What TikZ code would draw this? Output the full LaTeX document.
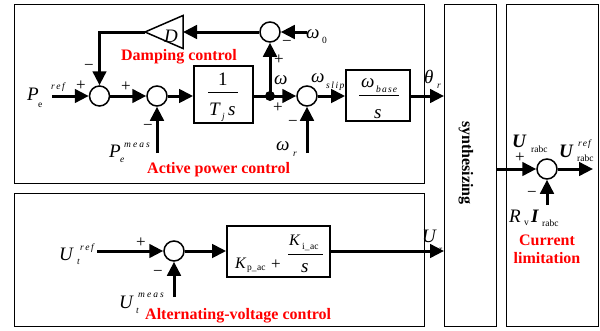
\documentclass[tikz,border=0pt]{standalone}
\usepackage{fontspec}
\setmainfont{Liberation Serif}
\usetikzlibrary{arrows.meta}
\newcommand{\bigf}{\fontsize{19}{19}\selectfont}
\newcommand{\kf}{\fontsize{16}{16}\selectfont}
\newcommand{\smf}{\fontsize{9.5}{9.5}\selectfont}
\newcommand{\signf}{\fontsize{17}{17}\selectfont}
\begin{document}
\begin{tikzpicture}[x=1pt,y=-1pt,
  sumc/.style={circle,draw,line width=1.5pt,minimum size=20pt,inner sep=0pt,fill=white},
  blk/.style={draw,line width=1.8pt,inner sep=0pt},
  frm/.style={draw,line width=1.4pt,inner sep=0pt,anchor=north west},
  conn/.style={line width=3pt,-{Triangle[length=14pt,width=13.5pt]}},
  bar/.style={line width=0.8pt},
  mv/.style={inner sep=0pt,anchor=base west,font=\bigf\itshape},
  mu/.style={inner sep=0pt,anchor=base west,font=\bigf},
  mb/.style={inner sep=0pt,anchor=base west,font=\bigf\bfseries\itshape},
  kv/.style={inner sep=0pt,anchor=base west,font=\kf\itshape},
  sv/.style={inner sep=0pt,anchor=base west,font=\smf\itshape},
  su/.style={inner sep=0pt,anchor=base west,font=\smf},
  sg/.style={inner sep=0pt,font=\signf},
  rl/.style={inner sep=0pt,text=red,font=\fontsize{16}{16}\selectfont\bfseries},
]
\useasboundingbox (0,0) rectangle (600,330);
% frames
\node[frm,minimum width=410.5pt,minimum height=179pt] (topbox) at (13.5,4) {};
\node[frm,minimum width=410.5pt,minimum height=133pt] (botbox) at (13.5,193) {};
\node[frm,minimum width=52pt,minimum height=322pt] (synth) at (444,4) {};
\node[frm,minimum width=92pt,minimum height=322pt] (limbox) at (506,4) {};
\node[rotate=-90,inner sep=0pt,font=\fontsize{16}{16}\selectfont\bfseries] (synthtxt) at (466,163) {synthesizing};

% ---------- active power control ----------
\node[sumc] (c1) at (99.5,96) {};
\node[sumc] (c2) at (157,96) {};
\node[sumc] (ctop) at (270,32) {};
\node[sumc] (c3) at (307,96) {};
\node[blk,minimum width=59pt,minimum height=57pt] (b1) at (223.5,94.5) {};
\node[blk,minimum width=64pt,minimum height=51pt] (b2) at (378,95.5) {};
\draw[line width=1.5pt,fill=white] (145,32) -- (183,15.5) -- (183,48.5) -- cycle;
\coordinate (triTip) at (145,32);
\coordinate (triBase) at (183,32);
\node[mv] (dlab) at (164,42) {D};

\coordinate (prefIn) at (52,96);
\coordinate (pmeasIn) at (157,153);
\coordinate (w0In) at (307,32);
\coordinate (wrIn) at (307,153);

\draw[conn] (prefIn) -- (c1.west);
\draw[conn] (triTip) -| (c1.north);
\draw[conn] (c1.east) -- (c2.west);
\draw[conn] (pmeasIn) -- (c2.south);
\draw[conn] (c2.east) -- (c2.east -| b1.west);
\draw[conn] (b1.east |- c3) -- (c3.west);
\node[circle,fill,inner sep=0pt,minimum size=10pt] (jn) at (270,96) {};
\draw[conn] (jn.center) -- (ctop.south);
\draw[conn] (w0In) -- (ctop.east);
\draw[conn] (ctop.west) -- (triBase);
\draw[conn] (wrIn) -- (c3.south);
\draw[conn] (c3.east) -- (c3.east -| b2.west);
\draw[conn] (b2.east |- c3) -- (c3 -| synth.west);

% block 1 content
\node[mu] (b1n) at (218,85) {1};
\draw[bar] (208,92) -- (238,92);
\node[mv] (b1T) at (209,115) {T};
\node[sv] (b1j) at (222,119) {j};
\node[mv] (b1s) at (228,115) {s};
% block 2 content
\node[mv] (b2w) at (361,87) {ω};
\node[sv] (b2b) at (376,92) {b\kern1.2pt a\kern1.2pt s\kern1.2pt e};
\draw[bar] (359,95) -- (399,95);
\node[mv] (b2s) at (374,118) {s};

% labels
\node[mv] (pr) at (27,100) {P};
\node[sv] (prs) at (51,89) {r\kern1.5pt e\kern1.5pt f};
\node[su] (pre) at (38,107) {e};
\node[mv] (pm) at (109,157) {P};
\node[sv] (pms) at (124,147) {m\kern2pt e\kern2pt a\kern2pt s};
\node[sv] (pme) at (120,162) {e};
\node[mv] (wj) at (274,84) {ω};
\node[mv] (ws) at (311,82) {ω};
\node[sv] (wss) at (326,88) {s\kern1.5pt l\kern1.5pt i\kern1.5pt p};
\node[mv] (w0) at (306,38) {ω};
\node[su] (w0s) at (322,43) {0};
\node[mv] (wr) at (276,150) {ω};
\node[sv] (wrs) at (293,156) {r};
\node[mv] (th) at (424,83) {θ};
\node[sv] (ths) at (437,88) {r};

% signs
\node[sg] (s1a) at (81,86) {+};
\node[sg] (s1b) at (89,67) {−};
\node[sg] (s2a) at (126,87) {+};
\node[sg] (s2b) at (148,127) {−};
\node[sg] (s3a) at (279,60) {+};
\node[sg] (s3b) at (287,43) {−};
\node[sg] (s4a) at (278,108) {+};
\node[sg] (s4b) at (293,123) {−};

\node[rl,anchor=base] (dmp) at (179,60) {Damping control};
\node[rl,anchor=base west] (apc) at (147,173) {Active power control};

% ---------- alternating voltage control ----------
\node[sumc] (c4) at (174,251) {};
\node[blk,minimum width=103pt,minimum height=51pt] (b3) at (278.5,251.5) {};
\coordinate (urefIn) at (97,251);
\coordinate (umeasIn) at (174,297);
\draw[conn] (urefIn) -- (c4.west);
\draw[conn] (umeasIn) -- (c4.south);
\draw[conn] (c4.east) -- (c4.east -| b3.west);
\draw[conn] (b3.east |- c4) -- (c4 -| synth.west);

\node[kv] (k1) at (235,268) {K};
\node[su] (k1s) at (247,270) {p\_\kern0.5pt ac};
\node[sg] (kp) at (276,265) {+};
\draw[bar] (288,254) -- (323,254);
\node[kv] (k2) at (289,245) {K};
\node[su] (k2s) at (302,249) {i\_\kern0.5pt ac};
\node[mv] (k2d) at (301,272) {s};

\node[mv] (ur) at (59,260) {U};
\node[sv] (urs) at (80,250) {r\kern1.5pt e\kern1.5pt f};
\node[sv] (urt) at (77,264) {t};
\node[mv] (um) at (119,308) {U};
\node[sv] (ums) at (138,297) {m\kern2pt e\kern2pt a\kern2pt s};
\node[sv] (umt) at (136,313) {t};
\node[sg] (s5a) at (141,243) {+};
\node[sg] (s5b) at (158,273) {−};
\node[mv] (uo) at (422,242) {U};
\node[su] (uos) at (439,252) {r};

\node[rl,anchor=base west] (avc) at (145,319) {Alternating-voltage control};

% ---------- current limitation ----------
\node[sumc] (c5) at (547,169) {};
\coordinate (rvIn) at (547,205);
\coordinate (uOut) at (593,169);
\draw[conn] (c5 -| synth.east) -- (c5.west);
\draw[conn] (rvIn) -- (c5.south);
\draw[conn] (c5.east) -- (uOut);

\node[mb] (ua) at (512,147) {U};
\node[su] (uas) at (531,152) {rabc};
\node[mb] (ub) at (559,157) {U};
\node[sv] (ubs) at (578,146) {r\kern1pt e\kern1pt f};
\node[su] (ubr) at (577,161) {rabc};
\node[mv] (rv) at (509,222) {R};
\node[su] (rvs) at (524,225) {v};
\node[mb] (ri) at (531,222) {I};
\node[su] (ris) at (542,226) {rabc};
\node[sg] (s6a) at (520,158) {+};
\node[sg] (s6b) at (532,194) {−};

\node[rl,anchor=base] (cur1) at (547,245) {Current};
\node[rl,anchor=base] (cur2) at (547,263) {limitation};
\end{tikzpicture}
\end{document}
